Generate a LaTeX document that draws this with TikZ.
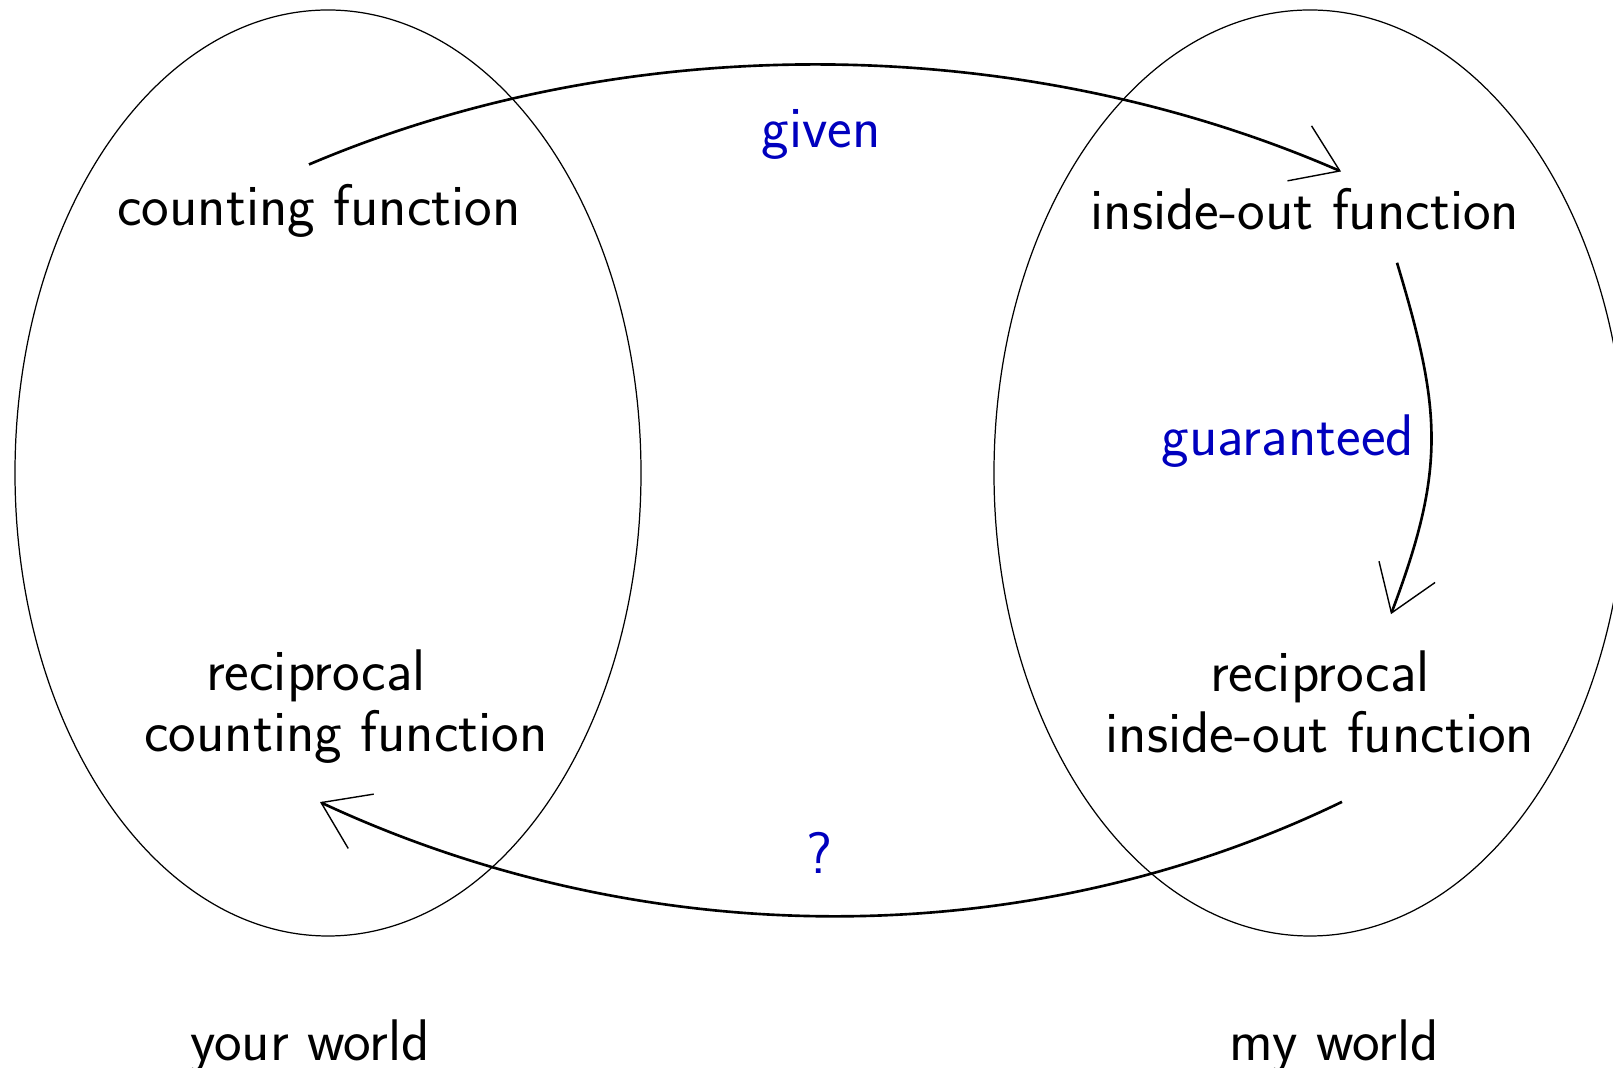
\documentclass[tikz,border=0pt]{standalone}
\usetikzlibrary{arrows.meta,bending}
\definecolor{labblue}{RGB}{0,0,190}

\begin{document}
\begin{tikzpicture}[line width=.35pt,font=\sffamily\fontsize{16.7}{17.3}\selectfont,
  lab/.style={text=labblue,anchor=base},
  conn/.style={line width=.75pt,-{Straight Barb[length=4.4mm,width=6mm,line width=.4pt]}}]
\useasboundingbox (0,0) rectangle (16.13,10.68);
\draw (3.28,5.95) ellipse (3.13 and 4.63); \draw (13.10,5.95) ellipse (3.16 and 4.63);
\node[anchor=base] (cf) at (3.19,8.42) {counting function};
\node[anchor=base] (io) at (13.05,8.38) {inside-out function};
\node[align=center] (rcf) at (3.46,3.61) {reciprocal\hspace*{6mm}\\counting function};
\node[align=center] (rio) at (13.20,3.665) {reciprocal\\inside-out function};
\node[anchor=base] (yw) at (3.10,0.07) {your world}; \node[anchor=base] (mw) at (13.34,0.07) {my world};
\draw[conn] ([xshift=-1mm,yshift=.8mm]cf.north) .. controls +(3.2,1.36) and +(-3.2,1.4) .. ([xshift=3.6mm,yshift=.5mm]io.north);
\draw[conn] ([xshift=9.2mm,yshift=-2mm]io.south) .. controls +(.45,-1.49) and +(.55,1.45) .. ([xshift=7.1mm,yshift=2.4mm]rio.north);
\draw[conn] ([xshift=2.2mm,yshift=-3.7mm]rio.south) .. controls +(-3.2,-1.55) and +(3.2,-1.5) .. ([xshift=-2.6mm,yshift=-2.6mm]rcf.south);
\node[lab] (given) at (8.21,9.20) {given}; \node[lab] (guar) at (12.88,6.12) {guaranteed};
\node[lab] (q) at (8.20,1.94) {?};
\end{tikzpicture}
\end{document}
